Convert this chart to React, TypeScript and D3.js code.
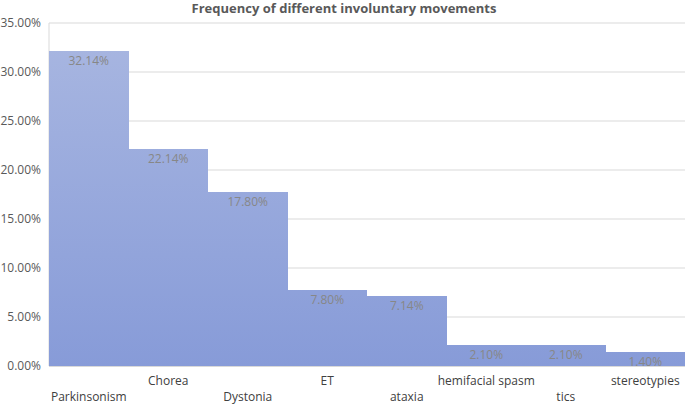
import React from "react";
import * as d3 from "d3";

const categories = ["Parkinsonism", "Chorea", "Dystonia", "ET", "ataxia", "hemifacial spasm", "tics", "stereotypies"];
const values = [32.14, 22.14, 17.8, 7.8, 7.14, 2.1, 2.1, 1.4];
const yTicks = [0, 5, 10, 15, 20, 25, 30, 35];

const W = 685, H = 405;
const M = { left: 49, right: 685, top: 23, bottom: 366 };
const FONT = "'Open Sans', 'Liberation Sans', sans-serif";

export default function App() {
  const x = d3.scaleBand<string>().domain(categories).range([M.left, M.right]).padding(0);
  const y = d3.scaleLinear().domain([0, 35]).range([M.bottom, M.top]);
  return (
    <svg width={W} height={H} style={{ position: "absolute", left: 0, top: 0 }} fontFamily={FONT}>
      <defs>
        <linearGradient id="g" gradientUnits="userSpaceOnUse" x1="0" y1={M.top} x2="0" y2={M.bottom}>
          <stop offset="0" stopColor="#a9b7e1" />
          <stop offset="1" stopColor="#879bd8" />
        </linearGradient>
      </defs>
      <rect width={W} height={H} fill="#fff" />
      <text x={344} y={13} textAnchor="middle" fontSize={13} fontWeight="bold" fill="#595959">
        Frequency of different involuntary movements
      </text>
      {yTicks.map((t) => (
        <g key={t}>
          {t > 0 && <line x1={M.left} x2={M.right} y1={y(t)} y2={y(t)} stroke="#d9d9d9" strokeWidth={1} />}
          <text x={41} y={y(t) + 4} textAnchor="end" fontSize={12} fill="#595959">
            {t.toFixed(2)}%
          </text>
        </g>
      ))}
      <line x1={M.left} x2={M.left} y1={M.top} y2={M.bottom} stroke="#d9d9d9" />
      <g shapeRendering="crispEdges">
        {categories.map((c, i) => (
          <rect key={c} x={Math.round(x(c)!)} y={y(values[i])} width={Math.round(x(c)! + x.bandwidth()) - Math.round(x(c)!)} height={y(0) - y(values[i])} fill="url(#g)" />
        ))}
      </g>
      <line x1={M.left} x2={M.right} y1={M.bottom + 0.5} y2={M.bottom + 0.5} stroke="#d9d9d9" />
      {categories.map((c, i) => (
        <text key={c} x={x(c)! + x.bandwidth() / 2} y={y(values[i]) + 14} textAnchor="middle" fontSize={12} fill="#878787">
          {values[i].toFixed(2)}%
        </text>
      ))}
      {categories.map((c, i) => (
        <text key={c} x={x(c)! + x.bandwidth() / 2} y={i % 2 === 0 ? 401 : 385} textAnchor="middle" fontSize={12} fill="#404040">
          {c}
        </text>
      ))}
    </svg>
  );
}
